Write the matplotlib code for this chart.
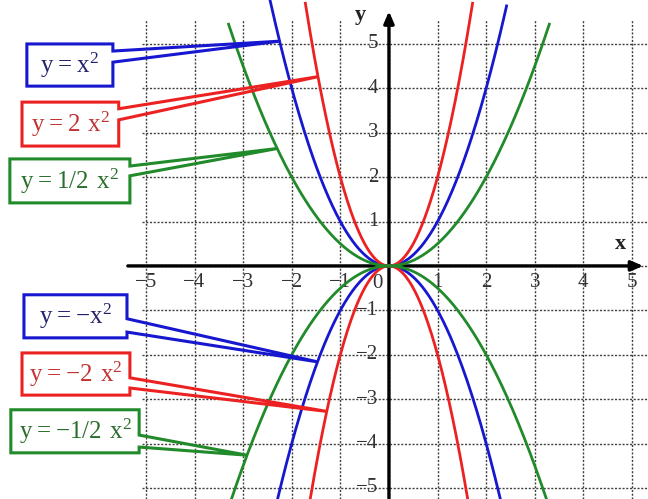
import matplotlib.pyplot as plt
from matplotlib.patches import Polygon
import numpy as np

plt.rcParams['font.family'] = ['Liberation Serif', 'DejaVu Serif']
plt.rcParams['mathtext.fontset'] = 'custom'
plt.rcParams['mathtext.rm'] = 'Liberation Serif'

# Parabolas y = k x^2, with the x range each positive branch is drawn on
coefs = [1, 2, 0.5]
colors = ['#1717d0', '#ec2222', '#218a2a']
text_colors = ['#23236e', '#c23232', '#2c6e2c']
x_limits = [(-2.45, 2.42), (-1.72, 1.72), (-3.3, 3.3)]

labels_pos = [r'$\mathrm{y = x^2}$', r'$\mathrm{y = 2\ x^2}$', r'$\mathrm{y = 1/2\ x^2}$']
labels_neg = [r'$\mathrm{y = -x^2}$', r'$\mathrm{y = -2\ x^2}$', r'$\mathrm{y = -1/2\ x^2}$']
# x where each callout points at its curve
target_x_pos = [-2.25, -1.46, -2.3]
target_x_neg = [-1.47, -1.28, -2.92]

ticks = [-5, -4, -3, -2, -1, 1, 2, 3, 4, 5]

bg = '#ccf9f9'
fig = plt.figure(figsize=(6.48, 4.99), dpi=100, facecolor='white')
ax = fig.add_axes([5 / 648, 0, 643 / 648, 1])
ax.set_facecolor(bg)
ax.set_xlim(-7.90, 5.33)
ax.set_ylim(-5.25, 5.99)
ax.axis('off')

# dotted grid
grid_style = dict(color='#404040', lw=1.0, linestyle=(0, (1.5, 1.2)), zorder=1)
for t in range(-5, 6):
    ax.plot([t, t], [-5.25, 5.54], **grid_style)
    ax.plot([-5.08, 5.33], [t, t], **grid_style)

# axes with arrows
ax.annotate('', xy=(5.29, 0), xytext=(-5.43, 0),
            arrowprops=dict(arrowstyle='-|>,head_length=0.7,head_width=0.3', lw=2.4, color='black'), zorder=3)
ax.annotate('', xy=(0, 5.8), xytext=(0, -5.3),
            arrowprops=dict(arrowstyle='-|>,head_length=0.7,head_width=0.3', lw=2.4, color='black'), zorder=3)

# curves
for k, c, (a, b) in zip(coefs, colors, x_limits):
    xs = np.linspace(a, b, 300)
    ax.plot(xs, k * xs ** 2, color=c, lw=2.0, zorder=4)
    xs = np.linspace(-3.6, 3.6, 300)
    ax.plot(xs, -k * xs ** 2, color=c, lw=2.0, zorder=4)

# tick labels
for t in ticks:
    ax.text(t, -0.38, str(t).replace('-', '\u2212'), ha='center', va='center',
            fontsize=15, color='#333333', zorder=2)
    ax.text(-0.22, t, str(t).replace('-', '\u2212'), ha='right', va='center',
            fontsize=15, color='#333333', zorder=2)
ax.text(-0.24, -0.4, '0', ha='center', va='center', fontsize=15, color='#333333')
ax.text(4.77, 0.5, 'x', ha='center', va='center', fontsize=16, fontweight='bold', color='#222222')
ax.text(-0.58, 5.65, 'y', ha='center', va='center', fontsize=16, fontweight='bold', color='#222222')

# callout boxes: (left, right, top, bottom, wedge top, wedge bottom) in data units
boxes_pos = [(-7.45, -5.68, 5.0, 4.05, 4.84, 4.59),
             (-7.55, -5.56, 3.69, 2.70, 3.54, 3.29),
             (-7.80, -5.33, 2.41, 1.42, 2.25, 2.03)]
boxes_neg = [(-7.51, -5.39, -0.65, -1.62, -1.19, -1.49),
             (-7.55, -5.33, -1.96, -2.91, -2.52, -2.75),
             (-7.78, -5.14, -3.24, -4.21, -3.81, -4.08)]


def callout(box, tx, ty, text, ec, tc):
    x0, x1, y1, y0, w1, w2 = box
    pts = [(x0, y1), (x1, y1), (x1, w1), (tx, ty), (x1, w2), (x1, y0), (x0, y0)]
    ax.add_patch(Polygon(pts, closed=True, fill=False, edgecolor=ec, lw=2.2, zorder=5))
    ax.text((x0 + x1) / 2, (y0 + y1) / 2, text, ha='center', va='center',
            fontsize=18, color=tc, zorder=6)


for i in range(3):
    k = coefs[i]
    tx = target_x_pos[i]
    callout(boxes_pos[i], tx, k * tx ** 2, labels_pos[i], colors[i], text_colors[i])
    tx = target_x_neg[i]
    callout(boxes_neg[i], tx, -k * tx ** 2, labels_neg[i], colors[i], text_colors[i])

plt.savefig('out.png', dpi=100, facecolor='white')
